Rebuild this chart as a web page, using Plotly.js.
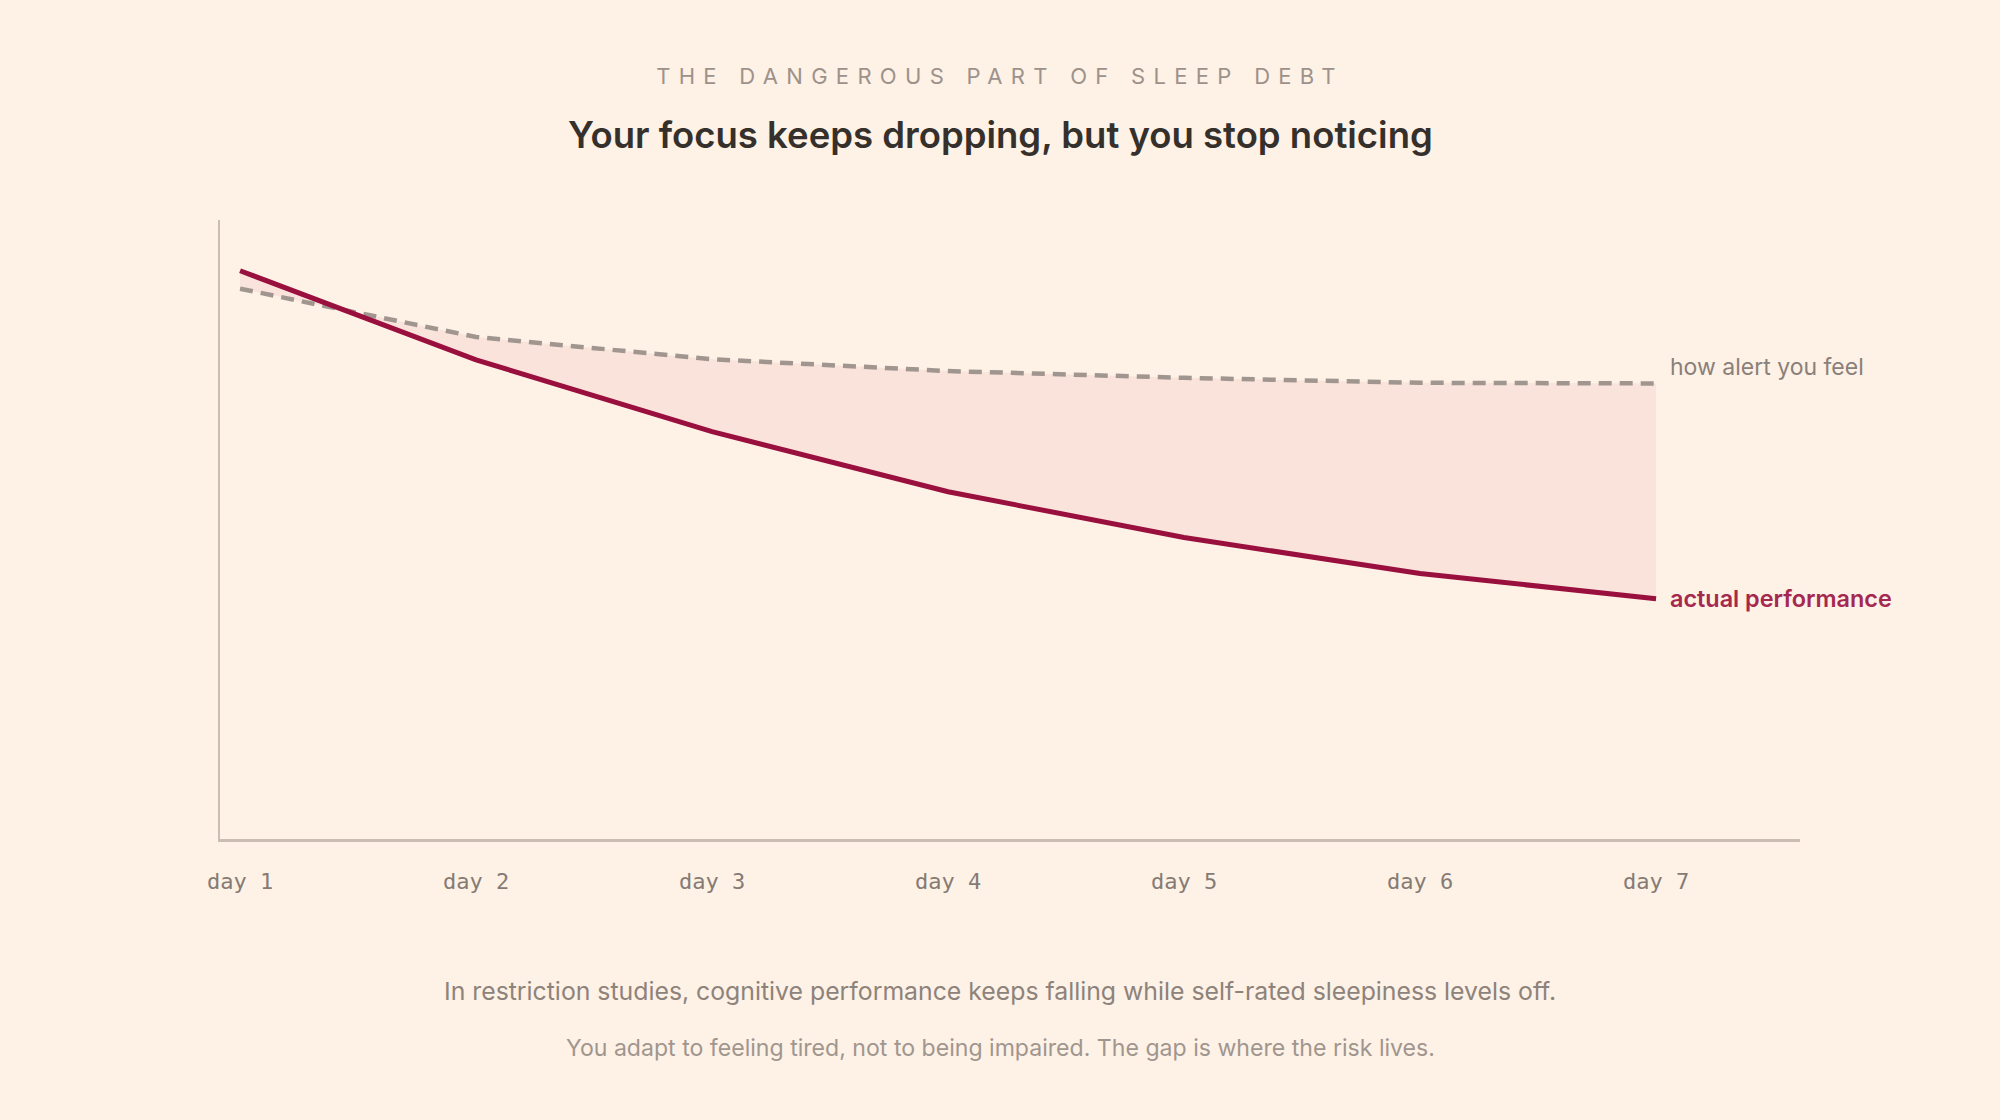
<!DOCTYPE html>
<html>
<head>
<meta charset="utf-8">
<script src="https://cdn.plot.ly/plotly-3.0.1.min.js"></script>
<style>
  html, body { margin: 0; padding: 0; background: #fef1e6; }
  #chart { width: 2000px; height: 1120px; }
  /* spaced-out kicker line above the headline */
  #chart .gtitle { letter-spacing: 8.3px; }
</style>
</head>
<body>
<div id="chart"></div>
<script>
// Days of sleep restriction
const days = [1, 2, 3, 4, 5, 6, 7];
const dayLabels = ['day 1', 'day 2', 'day 3', 'day 4', 'day 5', 'day 6', 'day 7'];

// Relative scores (0-100)
const feltAlertness = [88.9, 81.1, 77.5, 75.6, 74.5, 73.7, 73.6];
const actualPerformance = [91.8, 77.4, 65.8, 56.1, 48.7, 42.9, 38.8];

const kicker = 'THE DANGEROUS PART OF SLEEP DEBT';
const headline = 'Your focus keeps dropping, but you stop noticing';
const noteLine1 = 'In restriction studies, cognitive performance keeps falling while self-rated sleepiness levels off.';
const noteLine2 = 'You adapt to feeling tired, not to being impaired. The gap is where the risk lives.';
const feltLabel = 'how alert you feel';
const actualLabel = 'actual performance';

const W = 2000, H = 1120;
const M = { l: 220, r: 200, t: 220, b: 281 };
const plotW = W - M.l - M.r;
const plotH = H - M.t - M.b;
// paper coordinates for a point given in page pixels
const px = x => (x - M.l) / plotW;
const py = y => (H - M.b - y) / plotH;

const traces = [
  {
    x: days, y: feltAlertness, type: 'scatter', mode: 'lines',
    line: { color: '#a0968f', width: 4.5, dash: '13px,8px' },
    hoverinfo: 'skip', showlegend: false
  },
  {
    x: days, y: actualPerformance, type: 'scatter', mode: 'lines',
    fill: 'tonexty', fillcolor: '#f9e3db',
    line: { color: '#990f3d', width: 5 },
    hoverinfo: 'skip', showlegend: false
  }
];

const layout = {
  width: W, height: H,
  margin: M,
  paper_bgcolor: '#fef1e6',
  plot_bgcolor: '#fef1e6',
  font: { family: 'Inter, "Noto Sans", sans-serif', color: '#8a8079' },
  title: {
    text: kicker,
    xref: 'container', x: 0.5, xanchor: 'center',
    yref: 'container', y: 1 - 76 / H, yanchor: 'middle',
    font: { family: 'Inter, sans-serif', size: 22, color: '#9d928a', weight: 400 }
  },
  xaxis: {
    range: [0.915, 7.61],
    tickvals: days, ticktext: dayLabels,
    tickfont: { family: '"DejaVu Sans Mono", monospace', size: 22, color: '#857b74' },
    ticks: '', ticklabelstandoff: 21,
    showgrid: false, zeroline: false,
    showline: true, linecolor: '#cbbdb3', linewidth: 2.5,
    fixedrange: true
  },
  yaxis: {
    range: [0, 100],
    showticklabels: false, ticks: '',
    showgrid: false, zeroline: false,
    showline: true, linecolor: '#cbbdb3', linewidth: 2.5,
    fixedrange: true
  },
  annotations: [
    {
      text: headline, xref: 'paper', yref: 'paper',
      x: px(1000), y: py(135), xanchor: 'center', yanchor: 'middle',
      showarrow: false,
      font: { family: 'Inter, sans-serif', size: 36.5, color: '#35302b', weight: 600 }
    },
    {
      text: feltLabel, xref: 'x', yref: 'y',
      x: days[6], y: feltAlertness[6], xanchor: 'left', yanchor: 'middle',
      xshift: 12, yshift: 16, showarrow: false,
      font: { family: 'Inter, sans-serif', size: 23, color: '#8a8079' }
    },
    {
      text: actualLabel, xref: 'x', yref: 'y',
      x: days[6], y: actualPerformance[6], xanchor: 'left', yanchor: 'middle',
      xshift: 12, yshift: 0, showarrow: false,
      font: { family: 'Inter, sans-serif', size: 23.4, color: '#a5284f', weight: 600 }
    },
    {
      text: noteLine1, xref: 'paper', yref: 'paper',
      x: px(1000), y: py(991), xanchor: 'center', yanchor: 'middle',
      showarrow: false,
      font: { family: 'Inter, sans-serif', size: 24.8, color: '#8d837b' }
    },
    {
      text: noteLine2, xref: 'paper', yref: 'paper',
      x: px(1000), y: py(1048), xanchor: 'center', yanchor: 'middle',
      showarrow: false,
      font: { family: 'Inter, sans-serif', size: 23.1, color: '#a0968e' }
    }
  ]
};

Plotly.newPlot('chart', traces, layout, { displayModeBar: false, staticPlot: true });
</script>
</body>
</html>
